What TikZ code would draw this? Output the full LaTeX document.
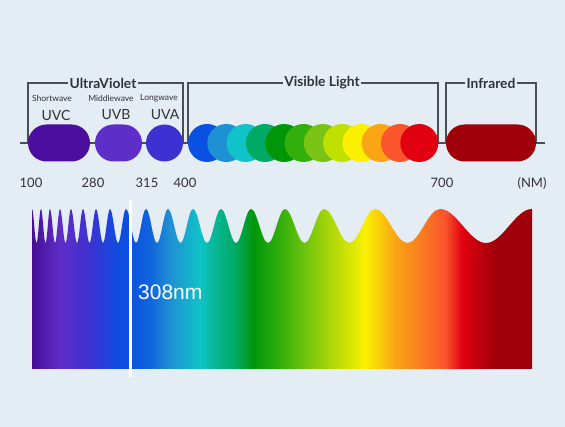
\documentclass[tikz,border=0pt]{standalone}
\usepackage{fontspec}
\setmainfont{Lato}
\newfontfamily\nmfont{Liberation Sans}
\usetikzlibrary{positioning}
\definecolor{bgblue}{RGB}{228,236,244}
\definecolor{linegray}{RGB}{74,78,84}
\definecolor{textgray}{RGB}{50,50,55}
\definecolor{uvccol}{RGB}{75,14,158}
\definecolor{uvbcol}{RGB}{95,45,200}
\definecolor{uvacol}{RGB}{60,50,210}
\definecolor{ircol}{RGB}{160,0,10}
\definecolor{vis1}{RGB}{10,80,225}
\definecolor{vis2}{RGB}{30,145,210}
\definecolor{vis3}{RGB}{15,195,200}
\definecolor{vis4}{RGB}{0,170,100}
\definecolor{vis5}{RGB}{0,150,10}
\definecolor{vis6}{RGB}{50,175,10}
\definecolor{vis7}{RGB}{120,195,20}
\definecolor{vis8}{RGB}{190,225,0}
\definecolor{vis9}{RGB}{250,240,0}
\definecolor{vis10}{RGB}{250,165,20}
\definecolor{vis11}{RGB}{250,85,45}
\definecolor{vis12}{RGB}{225,0,15}
% spectrum stops, x in 32..532 mapped to 25..75bp
\pgfdeclarehorizontalshading{spectrum}{100bp}{%
  color(0bp)=(uvccol!95!black);
  color(25bp)=(uvccol!95!black);
  color(27.8bp)=(uvbcol);
  color(30.8bp)=(uvacol);
  color(33.3bp)=(vis1!80!uvacol);
  color(34.6bp)=(vis1);
  color(36.8bp)=(vis1!70!vis2);
  color(38.8bp)=(vis2);
  color(41.8bp)=(vis3);
  color(43.3bp)=(vis3!50!vis4);
  color(45.3bp)=(vis4);
  color(47.1bp)=(vis5);
  color(49.8bp)=(vis6);
  color(53.8bp)=(vis7!60!vis8);
  color(58.3bp)=(vis9);
  color(61.3bp)=(vis10);
  color(63.8bp)=(vis10!50!vis11);
  color(66.3bp)=(vis11);
  color(68bp)=(vis12);
  color(71.3bp)=(ircol);
  color(75bp)=(ircol);
  color(100bp)=(ircol)}

\begin{document}
\begin{tikzpicture}[x=1pt, y=-1pt,
  band/.style={rounded corners=18.5pt, minimum height=37pt, inner sep=0pt},
  dot/.style={circle, minimum size=38pt, inner sep=0pt},
  bracket/.style={draw=linegray, line width=2.2pt},
  head/.style={fill=bgblue, inner sep=1.5pt, text=textgray,
               font=\bfseries\fontsize{13.8}{15}\selectfont},
  sub/.style={text=textgray, inner sep=0pt, font=\fontsize{8.5}{10}\selectfont},
  band name/.style={text=textgray, inner sep=0pt, font=\fontsize{14}{16}\selectfont},
  num/.style={text=textgray, inner sep=0pt, font=\fontsize{13}{15}\selectfont}]
  \useasboundingbox (0,0) rectangle (565,427);
  \fill[bgblue] (0,0) rectangle (565,427);

  % axis
  \coordinate (axl) at (20,143);
  \coordinate (axr) at (545,143);
  \draw[linegray, line width=1.6pt] (axl) -- (axr);

  % brackets
  \node[head] (uvhead) at (103,83) {UltraViolet};
  \node[head] (vishead) at (322,83) {Visible Light};
  \node[head] (irhead) at (491,83) {Infrared};
  \draw[bracket] (uvhead.west) -| (28,143);
  \draw[bracket] (uvhead.east) -| (183,143);
  \draw[bracket] (vishead.west) -| (188,143);
  \draw[bracket] (vishead.east) -| (438,143);
  \draw[bracket] (irhead.west) -| (446,143);
  \draw[bracket] (irhead.east) -| (536,143);

  % bands
  \node[band, fill=uvccol, minimum width=62pt] (uvc) at (59,143) {};
  \node[band, fill=uvbcol, minimum width=47pt] (uvb) at (118.5,143) {};
  \node[dot, fill=uvacol, minimum size=37pt] (uva) at (164.5,143) {};
  \foreach \i in {1,...,12}
    \node[dot, fill=vis\i] (v\i) at ({207+19.3*(\i-1)},143) {};
  \node[band, fill=ircol, minimum width=90pt] (ir) at (491,143) {};

  \node[sub] (shortw) at (52,98) {Shortwave};
  \node[sub] (middlew) at (111,98) {Middlewave};
  \node[sub] (longw) at (159,98) {Longwave};
  \node[band name] (uvcname) at (56,115) {UVC};
  \node[band name] (uvbname) at (116,115) {UVB};
  \node[band name] (uvaname) at (165,115) {UVA};

  \node[num] (n100) at (31,183) {100};
  \node[num] (n280) at (93,183) {280};
  \node[num] (n315) at (147,183) {315};
  \node[num] (n400) at (185,183) {400};
  \node[num] (n700) at (442,183) {700};
  \node[num] (nunit) at (532,183) {(NM)};

  % spectrum
  \shade[shading=spectrum] (32,369) -- (32,209)
    foreach \a/\b in {32/41,41/50,50/60,60/71,71/83,83/96,96/110,110/126,
                      126/146,146/168,168/193,193/221,221/251,251/285,
                      285/324,324/375,375/440,440/532}
    { cos ({(3*\a+\b)/4},226) sin ({(\a+\b)/2},243)
      cos ({(\a+3*\b)/4},226) sin (\b,209) }
    -- (532,369) -- cycle;
  \coordinate (marktop) at (130,200);
  \coordinate (markbot) at (130,377);
  \draw[white, line width=3pt] (marktop) -- (markbot);
  \node[anchor=west, text=white, inner sep=0pt,
        font=\nmfont\fontsize{21}{24}\selectfont] (mark) at (138,292) {308nm};
\end{tikzpicture}
\end{document}
